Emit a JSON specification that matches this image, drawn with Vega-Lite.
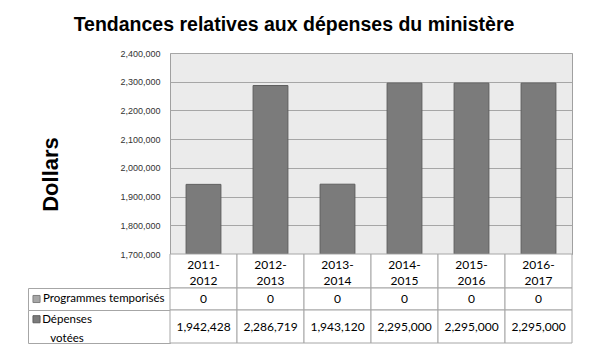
{
  "$schema": "https://vega.github.io/schema/vega-lite/v6.json",
  "padding": {"left": 27, "top": 15, "right": 16, "bottom": 8},
  "background": "white",
  "title": {"text": "Tendances relatives aux dépenses du ministère", "font": "Liberation Sans", "fontSize": 19.5, "fontWeight": "bold", "color": "black", "anchor": "middle", "offset": 13, "dx": -6},
  "datasets": {
    "d": [
      {"year": "2011-2012", "programmes": 0, "depenses": 1942428},
      {"year": "2012-2013", "programmes": 0, "depenses": 2286719},
      {"year": "2013-2014", "programmes": 0, "depenses": 1943120},
      {"year": "2014-2015", "programmes": 0, "depenses": 2295000},
      {"year": "2015-2016", "programmes": 0, "depenses": 2295000},
      {"year": "2016-2017", "programmes": 0, "depenses": 2295000}
    ],
    "s": [{"series": "Programmes temporisés"}, {"series": "Dépenses votées"}]
  },
  "columns": 2,
  "spacing": 0,
  "bounds": "flush",
  "align": "each",
  "config": {"font": "Lato", "view": {"stroke": null}},
  "concat": [
    {
      "width": 142, "height": 201,
      "data": {"values": [{}]},
      "mark": {"type": "text"},
      "encoding": {"text": {"value": ""}}
    },
    {
      "width": 402, "height": 201,
      "data": {"name": "d"},
      "view": {"fill": "#ebebeb", "stroke": "#a0a0a0"},
      "mark": {"type": "bar", "color": "#7b7b7b", "stroke": "#5e5e5e", "strokeWidth": 1},
      "encoding": {
        "x": {"field": "year", "type": "nominal", "sort": null, "axis": null, "scale": {"paddingInner": 0.48, "paddingOuter": 0.24}},
        "y": {
          "field": "depenses", "type": "quantitative",
          "scale": {"domain": [1700000, 2400000], "zero": false, "nice": false},
          "axis": {
            "values": [1700000, 1800000, 1900000, 2000000, 2100000, 2200000, 2300000, 2400000],
            "format": ",.0f", "labelFont": "Liberation Sans", "labelFontSize": 9, "labelColor": "#333333",
            "labelPadding": 10, "ticks": false, "domain": false,
            "gridColor": "#a6a6a6", "gridOpacity": 1,
            "title": "Dollars", "titleFont": "Liberation Sans", "titleFontSize": 22, "titleFontWeight": "bold", "titleColor": "black",
            "titleX": -108, "titleY": 121
          }
        },
        "y2": {"datum": 1700000}
      }
    },
    {
      "width": 142, "height": 34,
      "data": {"values": [{}]},
      "mark": {"type": "text"},
      "encoding": {"text": {"value": ""}}
    },
    {
      "width": 402, "height": 34,
      "data": {"name": "d"},
      "transform": [{"calculate": "[slice(datum.year, 0, 5), slice(datum.year, 5)]", "as": "label"}],
      "encoding": {"x": {"field": "year", "type": "nominal", "sort": null, "axis": null, "scale": {"paddingInner": 0, "paddingOuter": 0}}},
      "layer": [
        {"mark": {"type": "rect", "fill": "white", "stroke": "#a6a6a6", "strokeWidth": 1}},
        {"mark": {"type": "text", "fontSize": 12, "color": "black", "lineHeight": 16, "baseline": "middle", "dy": -6}, "encoding": {"text": {"field": "label"}}}
      ]
    },
    {
      "width": 142, "height": 22,
      "data": {"name": "s"},
      "transform": [{"filter": "datum.series == 'Programmes temporisés'"}],
      "view": {"stroke": "#a6a6a6", "fill": "white"},
      "layer": [
        {"mark": {"type": "square", "size": 50, "filled": true, "color": "#a6a6a6", "stroke": "#7f7f7f", "strokeWidth": 1, "opacity": 1},
         "encoding": {"x": {"datum": 6, "type": "quantitative", "scale": {"domain": [0, 100]}, "axis": null}}},
        {"mark": {"type": "text", "align": "left", "fontSize": 11.5, "color": "black"},
         "encoding": {"x": {"datum": 10.6, "type": "quantitative", "scale": {"domain": [0, 100]}, "axis": null}, "text": {"field": "series"}}}
      ]
    },
    {
      "width": 402, "height": 22,
      "data": {"name": "d"},
      "encoding": {"x": {"field": "year", "type": "nominal", "sort": null, "axis": null, "scale": {"paddingInner": 0, "paddingOuter": 0}}},
      "layer": [
        {"mark": {"type": "rect", "fill": "white", "stroke": "#a6a6a6", "strokeWidth": 1}},
        {"mark": {"type": "text", "fontSize": 12, "color": "black"}, "encoding": {"text": {"field": "programmes", "type": "quantitative", "format": ","}}}
      ]
    },
    {
      "width": 142, "height": 33,
      "data": {"name": "s"},
      "transform": [{"filter": "datum.series == 'Dépenses votées'"}],
      "view": {"stroke": "#a6a6a6", "fill": "white"},
      "layer": [
        {"mark": {"type": "square", "size": 50, "filled": true, "color": "#7b7b7b", "stroke": "#5e5e5e", "strokeWidth": 1, "opacity": 1},
         "encoding": {
           "x": {"datum": 6, "type": "quantitative", "scale": {"domain": [0, 100]}, "axis": null},
           "y": {"datum": 72, "type": "quantitative", "scale": {"domain": [0, 100]}, "axis": null}
         }},
        {"mark": {"type": "text", "align": "center", "fontSize": 11.5, "color": "black", "lineBreak": " ", "lineHeight": 19, "baseline": "middle", "dy": -7},
         "encoding": {"x": {"datum": 27.5, "type": "quantitative", "scale": {"domain": [0, 100]}, "axis": null}, "text": {"field": "series"}}}
      ]
    },
    {
      "width": 402, "height": 33,
      "data": {"name": "d"},
      "encoding": {"x": {"field": "year", "type": "nominal", "sort": null, "axis": null, "scale": {"paddingInner": 0, "paddingOuter": 0}}},
      "layer": [
        {"mark": {"type": "rect", "fill": "white", "stroke": "#a6a6a6", "strokeWidth": 1}},
        {"mark": {"type": "text", "fontSize": 12, "color": "black"}, "encoding": {"text": {"field": "depenses", "type": "quantitative", "format": ","}}}
      ]
    }
  ]
}
